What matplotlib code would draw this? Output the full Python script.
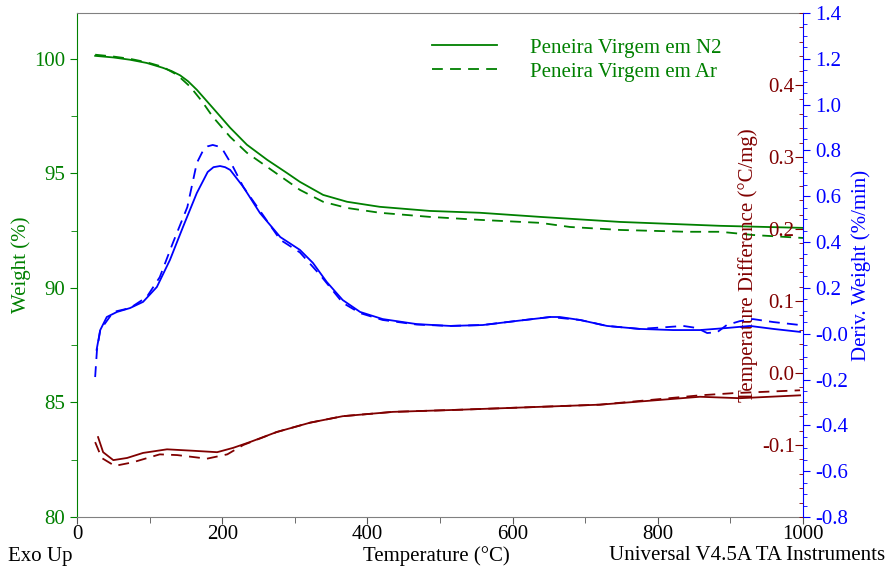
import numpy as np
import matplotlib
matplotlib.use("Agg")
import matplotlib.pyplot as plt
from matplotlib.ticker import MultipleLocator

plt.rcParams['font.family'] = ['Liberation Serif', 'DejaVu Serif']
plt.rcParams['font.size'] = 15

GREEN = '#008000'
BLUE = '#0000ff'
RED = '#800000'

# weight (%) - N2 (solid) and Ar (dashed)
t_w_n2 = [25, 50, 73, 96, 118, 130, 142, 153, 165, 187, 211, 234, 262, 289, 307, 339,
          372, 417, 486, 555, 638, 748, 886, 1000]
w_n2 = [100.13, 100.06, 99.96, 99.82, 99.61, 99.47, 99.28, 99.02, 98.65, 97.86, 96.99,
        96.25, 95.59, 95.02, 94.63, 94.06, 93.76, 93.54, 93.36, 93.28, 93.10, 92.88,
        92.71, 92.62]
t_w_ar = [25, 50, 73, 96, 118, 138, 156, 172, 187, 211, 234, 262, 307, 339, 372, 417,
          486, 555, 638, 679, 748, 840, 886, 931, 1000]
w_ar = [100.18, 100.1, 100.0, 99.85, 99.65, 99.30, 98.78, 98.15, 97.47, 96.59, 95.90,
        95.28, 94.28, 93.76, 93.49, 93.28, 93.10, 92.97, 92.84, 92.66, 92.53, 92.45,
        92.45, 92.31, 92.18]

# deriv. weight (%/min)
t_d_n2 = [27, 32, 41, 55, 73, 91, 110, 128, 146, 165, 180, 188, 197, 204, 211, 229, 252,
          280, 307, 325, 344, 366, 390, 421, 468, 514, 559, 606, 652, 665, 693, 730, 775,
          821, 858, 895, 927, 959, 996]
d_n2 = [-0.07, 0.016, 0.073, 0.095, 0.112, 0.139, 0.204, 0.322, 0.466, 0.614, 0.706,
        0.727, 0.732, 0.727, 0.715, 0.641, 0.527, 0.422, 0.366, 0.309, 0.226, 0.147,
        0.095, 0.064, 0.042, 0.034, 0.038, 0.056, 0.073, 0.073, 0.060, 0.034, 0.021,
        0.016, 0.016, 0.025, 0.034, 0.021, 0.008]
t_d_ar = [25, 27.5, 32, 50, 73, 96, 114, 132, 152, 165, 174, 180, 187, 194, 201, 215, 229,
          280, 307, 335, 366, 390, 421, 468, 514, 559, 606, 652, 693, 730, 775, 813, 835,
          854, 868, 882, 895, 913, 931, 959, 996]
d_ar = [-0.189, -0.071, 0.016, 0.095, 0.112, 0.160, 0.247, 0.396, 0.553, 0.745, 0.802,
        0.818, 0.824, 0.818, 0.802, 0.728, 0.641, 0.41, 0.355, 0.256, 0.135, 0.09, 0.06,
        0.04, 0.034, 0.038, 0.056, 0.073, 0.060, 0.034, 0.021, 0.029, 0.034, 0.025,
        0.003, 0.007, 0.038, 0.055, 0.064, 0.051, 0.038]

# temperature difference (°C/mg)
t_dt_n2 = [29, 36, 50, 69, 91, 124, 160, 193, 215, 238, 275, 321, 366, 435, 528, 720,
           858, 913, 996]
dt_n2 = [-0.089, -0.110, -0.121, -0.118, -0.111, -0.106, -0.108, -0.110, -0.104,
         -0.096, -0.082, -0.069, -0.060, -0.054, -0.051, -0.044, -0.033, -0.035, -0.031]
t_dt_ar = [25, 34, 52, 77, 114, 138, 179, 207, 229, 275, 321, 366, 435, 528, 720, 858,
           904, 996]
dt_ar = [-0.096, -0.118, -0.129, -0.124, -0.113, -0.114, -0.119, -0.113, -0.100,
         -0.082, -0.069, -0.060, -0.054, -0.051, -0.044, -0.031, -0.028, -0.024]

dash = (0, (6, 4))
lw = 1.3

fig = plt.figure(figsize=(8.87, 5.67), dpi=100)
ax = fig.add_axes([77/887, 50/567, 726/887, 504/567])
ax2 = ax.twinx()
ax3 = ax.twinx()

l1, = ax.plot(t_w_n2, w_n2, color=GREEN, lw=lw, label='Peneira Virgem em N2')
l2, = ax.plot(t_w_ar, w_ar, color=GREEN, lw=lw, ls=dash, label='Peneira Virgem em Ar')
ax2.plot(t_dt_n2, dt_n2, color=RED, lw=lw)
ax2.plot(t_dt_ar, dt_ar, color=RED, lw=lw, ls=dash)
ax3.plot(t_d_n2, d_n2, color=BLUE, lw=lw)
ax3.plot(t_d_ar, d_ar, color=BLUE, lw=lw, ls=dash)

ax.set_xlim(0, 1000)
ax.set_ylim(80, 102)
ax2.set_ylim(-0.2, 0.5)
ax3.set_ylim(-0.8, 1.4)

ax.xaxis.set_major_locator(MultipleLocator(200))
ax.xaxis.set_minor_locator(MultipleLocator(100))
ax.yaxis.set_major_locator(MultipleLocator(5))
ax.yaxis.set_minor_locator(MultipleLocator(2.5))
ax.tick_params(axis='x', which='both', colors='#555555', labelcolor='black', pad=1)
ax.tick_params(axis='y', which='both', colors=GREEN, labelcolor=GREEN)
ax.tick_params(which='major', length=5)
ax.tick_params(which='minor', length=4)

ax2.set_yticks([-0.1, 0.0, 0.1, 0.2, 0.3, 0.4])
ax2.set_yticklabels(['-0.1', '0.0', '0.1', '0.2', '0.3', '0.4'])
ax2.yaxis.set_minor_locator(MultipleLocator(0.02))
ax2.tick_params(axis='y', which='both', direction='in', colors=RED, labelcolor=RED, pad=-6)
ax2.tick_params(axis='y', which='major', length=6)
ax2.tick_params(axis='y', which='minor', length=3)
plt.setp(ax2.get_yticklabels(), ha='right')

ax3.set_yticks(np.arange(-0.8, 1.41, 0.2))
ax3.set_yticklabels([f'{v:.1f}' for v in np.arange(-0.8, 1.41, 0.2)])
ax3.yaxis.set_minor_locator(MultipleLocator(0.05))
ax3.tick_params(axis='y', which='both', colors=BLUE, labelcolor=BLUE)
ax3.tick_params(axis='y', which='major', length=5)
ax3.tick_params(axis='y', which='minor', length=3)

for a in (ax, ax2, ax3):
    for s in a.spines.values():
        s.set_visible(False)
ax.spines['left'].set_visible(True)
ax.spines['left'].set_color(GREEN)
ax.spines['bottom'].set_visible(True)
ax.spines['bottom'].set_color('#808080')
ax.spines['top'].set_visible(True)
ax.spines['top'].set_color('#808080')
ax3.spines['right'].set_visible(True)
ax3.spines['right'].set_color(BLUE)

ax.set_ylabel('Weight (%)', color=GREEN)
ax.yaxis.set_label_coords(-0.0634, 0.5)
ax2.set_ylabel('Temperature Difference (°C/mg)', color=RED)
ax2.yaxis.set_label_coords(0.9105, 0.5)
ax3.set_ylabel('Deriv. Weight (%/min)', color=BLUE)
ax3.yaxis.set_label_coords(1.066, 0.5)

leg = ax.legend(handles=[l1, l2], loc='upper left', bbox_to_anchor=(0.489, 0.950),
                frameon=False, labelcolor=GREEN, fontsize=15, handlelength=3.1,
                handletextpad=1.6, labelspacing=0.2, borderaxespad=0, borderpad=0)

fig.text(8/887, 1 - 556/567, 'Exo Up', ha='left', va='center')
fig.text(436/887, 1 - 556/567, 'Temperature (°C)', ha='center', va='center')
fig.text(885/887, 1 - 556/567, 'Universal V4.5A TA Instruments', ha='right', va='center')

fig.savefig('out.png', dpi=100)
